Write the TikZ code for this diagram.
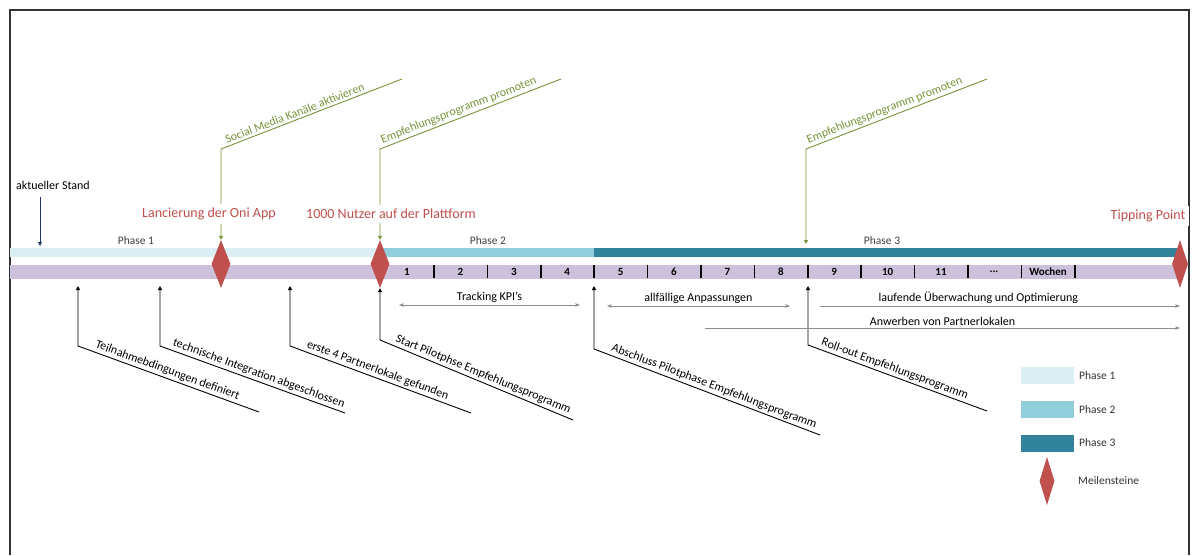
\documentclass[tikz,border=0pt]{standalone}
\usepackage{fontspec}
\setmainfont{Carlito}
\usetikzlibrary{arrows.meta,positioning}
\usetikzlibrary{shapes.geometric}
\definecolor{phaseone}{HTML}{DAEEF3}
\definecolor{phasetwo}{HTML}{92CDDC}
\definecolor{phasethree}{HTML}{31849B}
\definecolor{weekbar}{HTML}{CCC0DA}
\definecolor{milestone}{HTML}{C0504D}
\definecolor{promo}{HTML}{77933C}
\definecolor{standblue}{HTML}{1F3864}
\tikzset{
  milestone node/.style={
    diamond, fill=milestone, minimum width=19pt, minimum height=48pt, inner sep=0pt
  },
  milestone label/.style={
    text=milestone, fill=white, inner sep=4pt, font=\fontsize{14}{16}\selectfont
  },
  phase label/.style={text=black!75, font=\fontsize{11.5}{13}\selectfont},
  week label/.style={font=\bfseries\fontsize{11}{13}\selectfont},
  task line/.style={draw=black, line width=0.9pt, {Triangle[length=4pt,width=4pt]}-},
  promo line/.style={draw=promo, line width=0.9pt, {Triangle[length=4pt,width=4pt]}-},
  task text/.style={sloped, above, inner sep=2pt, font=\fontsize{12}{14}\selectfont},
  span arrow/.style={draw=black!45, line width=0.9pt},
  span text/.style={midway, above, inner sep=2pt, font=\fontsize{12}{14}\selectfont},
  legend box/.style={minimum width=53pt, minimum height=17pt, inner sep=0pt},
  legend text/.style={text=black!80, font=\fontsize{11.5}{13}\selectfont}
}

\begin{document}
\begin{tikzpicture}[x=1pt, y=-1pt]
    \useasboundingbox (0,0) rectangle (1197,555);
    \draw[black!80, line width=1.3pt] (10,555) -- (10,10) -- (1189,10) -- (1189,555);

    % phase bar and week bar
    \fill[phaseone] (10,248) rectangle (380,257);
    \fill[phasetwo] (380,248) rectangle (594,257);
    \fill[phasethree] (594,248) rectangle (1180,257);
    \fill[weekbar] (10,265) rectangle (1180,279);
    \foreach \i in {0,...,12}
      \draw[line width=1.6pt] ({434+53.4*\i},265) -- ++(0,13);
    \foreach \i in {1,...,11}
      \draw ({407+53.4*(\i-1)},272) node[week label] (w\i) {\i};
    \draw (994,272) node[week label] (wdots) {...};
    \draw (1048,272) node[week label] (wochen) {Wochen};

    \draw (136,241) node[phase label] (ph1) {Phase 1};
    \draw (488,241) node[phase label] (ph2) {Phase 2};
    \draw (882,241) node[phase label] (ph3) {Phase 3};

    % milestones
    \draw (221,264) node[milestone node] (ms1) {};
    \draw (380,264) node[milestone node] (ms2) {};
    \draw (1180,264) node[milestone node, minimum width=16pt] (ms3) {};

    % current state
    \draw (53,185) node[font=\fontsize{12}{14}\selectfont] (stand) {aktueller Stand};
    \coordinate (stand start) at (40,197);
    \coordinate (stand tip) at (40,246);
    \draw[standblue, line width=0.9pt, -{Triangle[length=4pt,width=4pt]}] (stand start) -- (stand tip);

    % promotion lines
    \coordinate (gA knee) at (221,149);
    \coordinate (gA end) at (402,79);
    \coordinate (gB knee) at (380,149);
    \coordinate (gB end) at (561,79);
    \coordinate (gC tip) at (806,244);
    \coordinate (gC knee) at (806,149);
    \coordinate (gC end) at (987,79);
    \draw[promo line] (ms1.north) -- (gA knee) -- node[task text, pos=0.42, text=promo] {Social Media Kanäle aktivieren} (gA end);
    \draw[promo line] (ms2.north) -- (gB knee) -- node[task text, pos=0.45, text=promo] {Empfehlungsprogramm promoten} (gB end);
    \draw[promo line] (gC tip) -- (gC knee) -- node[task text, pos=0.45, text=promo] {Empfehlungsprogramm promoten} (gC end);

    \draw (209,214) node[milestone label] (lanc) {Lancierung der Oni App};
    \draw (391,214) node[milestone label] (nutzer) {1000 Nutzer auf der Plattform};
    \draw (1148,216) node[milestone label] (tipping) {Tipping Point};

    % tasks below the bar
    \coordinate (t1 top) at (78,286);   \coordinate (t1 knee) at (78,346);   \coordinate (t1 end) at (259,412);
    \coordinate (t2 top) at (160,286);  \coordinate (t2 knee) at (160,346);  \coordinate (t2 end) at (345,413);
    \coordinate (t3 top) at (290,286);  \coordinate (t3 knee) at (290,346);  \coordinate (t3 end) at (471,413);
    \coordinate (t4 knee) at (380,340); \coordinate (t4 end) at (573,420);
    \coordinate (t5 top) at (594,286);  \coordinate (t5 knee) at (594,349);  \coordinate (t5 end) at (820,435);
    \coordinate (t6 top) at (808,286);  \coordinate (t6 knee) at (808,345);  \coordinate (t6 end) at (987,411);
    \draw[task line] (t1 top) -- (t1 knee) -- node[task text, pos=0.48] {Teilnahmebdingungen definiert} (t1 end);
    \draw[task line] (t2 top) -- (t2 knee) -- node[task text, pos=0.52] {technische Integration abgeschlossen} (t2 end);
    \draw[task line] (t3 top) -- (t3 knee) -- node[task text, pos=0.47] {erste 4 Partnerlokale gefunden} (t3 end);
    \draw[task line] (ms2.south) -- (t4 knee) -- node[task text, pos=0.52] {Start Pilotphse Empfehlungsprogramm} (t4 end);
    \draw[task line] (t5 top) -- (t5 knee) -- node[task text, pos=0.52] {Abschluss Pilotphase Empfehlungsprogramm} (t5 end);
    \draw[task line] (t6 top) -- (t6 knee) -- node[task text, pos=0.47] {Roll-out Empfehlungsprogramm} (t6 end);

    % durations
    \coordinate (trk left) at (399,305);  \coordinate (trk right) at (580,305);
    \coordinate (anp left) at (607,306);  \coordinate (anp right) at (790,306);
    \coordinate (lauf left) at (820,306); \coordinate (lauf right) at (1180,306);
    \coordinate (anw left) at (705,328);  \coordinate (anw right) at (1180,328);
    \draw (trk left) edge[span arrow, {Stealth[length=5pt]}-{Stealth[length=5pt]}] node[span text] {Tracking KPI's} (trk right);
    \draw (anp left) edge[span arrow, {Stealth[length=5pt]}-{Stealth[length=5pt]}] node[span text] {allfällige Anpassungen} (anp right);
    \draw (lauf left) edge[span arrow, -{Stealth[length=5pt]}] node[span text, pos=0.44] {laufende Überwachung und Optimierung} (lauf right);
    \draw (anw left) edge[span arrow, -{Stealth[length=5pt]}] node[span text] {Anwerben von Partnerlokalen} (anw right);

    % legend
    \draw (1047,375.5) node[legend box, fill=phaseone] (lg1) {};
    \draw (1047,409.5) node[legend box, fill=phasetwo] (lg2) {};
    \draw (1047,443) node[legend box, fill=phasethree] (lg3) {};
    \draw (1047,481) node[milestone node, minimum width=15pt] (lg4) {};
    \node[legend text, right=2pt of lg1] (lg1 text) {Phase 1};
    \node[legend text, right=2pt of lg2] (lg2 text) {Phase 2};
    \node[legend text, right=2pt of lg3] (lg3 text) {Phase 3};
    \node[legend text, right=20pt of lg4] (lg4 text) {Meilensteine};
\end{tikzpicture}
\end{document}
